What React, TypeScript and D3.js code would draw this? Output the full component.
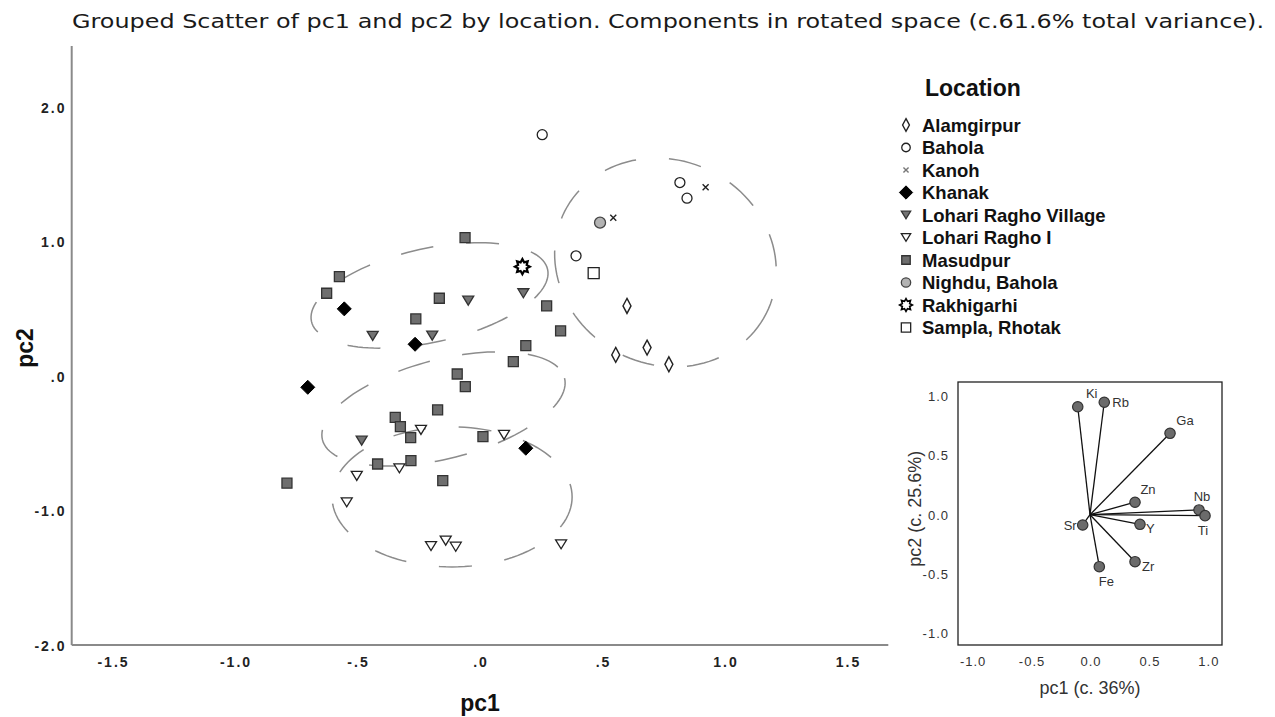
import { useEffect, useRef } from 'react'
import * as d3 from 'd3'

type Pt = [number, number]

const W = 1275
const H = 717

const TITLE =
  'Grouped Scatter of pc1 and pc2 by location. Components in rotated space (c.61.6% total variance).'

const LOCATIONS = [
  'Alamgirpur',
  'Bahola',
  'Kanoh',
  'Khanak',
  'Lohari Ragho Village',
  'Lohari Ragho I',
  'Masudpur',
  'Nighdu, Bahola',
  'Rakhigarhi',
  'Sampla, Rhotak',
]

// [pc1, pc2] scores per site
const ALAMGIRPUR: Pt[] = [[0.6, 0.528], [0.682, 0.218], [0.554, 0.164], [0.771, 0.094]]
const BAHOLA: Pt[] = [[0.254, 1.801], [0.816, 1.445], [0.845, 1.329], [0.392, 0.9]]
const KANOH: Pt[] = [[0.921, 1.41], [0.544, 1.184]]
const KHANAK: Pt[] = [[-0.554, 0.506], [-0.265, 0.243], [-0.703, -0.077], [0.187, -0.53]]
const LOHARI_VILLAGE: Pt[] = [
  [0.177, 0.622], [-0.048, 0.567], [-0.438, 0.305], [-0.195, 0.307], [-0.483, -0.474],
]
const LOHARI_I: Pt[] = [
  [-0.241, -0.394], [0.098, -0.431], [-0.329, -0.679], [-0.503, -0.736], [-0.544, -0.932],
  [-0.2, -1.257], [-0.14, -1.217], [-0.099, -1.262], [0.331, -1.244],
]
const MASUDPUR: Pt[] = [
  [-0.061, 1.036], [-0.574, 0.746], [-0.626, 0.622], [-0.166, 0.585], [0.272, 0.528],
  [-0.262, 0.431], [0.329, 0.342], [0.187, 0.233], [0.136, 0.114], [-0.093, 0.022],
  [-0.06, -0.072], [-0.173, -0.245], [-0.346, -0.3], [-0.325, -0.37], [-0.283, -0.451],
  [0.012, -0.444], [-0.418, -0.647], [-0.282, -0.622], [-0.788, -0.79], [-0.152, -0.771],
]
const NIGHDU: Pt[] = [[0.49, 1.147]]
const RAKHIGARHI: Pt[] = [[0.173, 0.82]]
const SAMPLA: Pt[] = [[0.464, 0.771]]

const SERIES = [
  ALAMGIRPUR, BAHOLA, KANOH, KHANAK, LOHARI_VILLAGE, LOHARI_I, MASUDPUR, NIGHDU, RAKHIGARHI, SAMPLA,
]

// group ellipses: centre plus two conjugate semi-axes, all in pc units
const ELLIPSE_CENTRES: Pt[] = [[0.757, 0.851], [-0.206, 0.606], [-0.149, -0.238], [-0.114, -0.892]]
const ELLIPSE_AXIS_U: Pt[] = [[0.411, -0.381], [0.482, 0.193], [0.494, 0.23], [0.49, 0]]
const ELLIPSE_AXIS_V: Pt[] = [[-0.189, -0.676], [0.041, -0.341], [0.05, -0.357], [0, -0.52]]

const X_TICKS = [-1.5, -1, -0.5, 0, 0.5, 1, 1.5]
const Y_TICKS = [-2, -1, 0, 1, 2]

// inset loading plot
const LOADING_VARS = ['Ki', 'Rb', 'Ga', 'Zn', 'Nb', 'Ti', 'Y', 'Zr', 'Fe', 'Sr']
const LOADING_PC1 = [-0.104, 0.121, 0.679, 0.382, 0.925, 0.976, 0.424, 0.382, 0.079, -0.062]
const LOADING_PC2 = [0.911, 0.949, 0.687, 0.105, 0.04, -0.008, -0.081, -0.397, -0.439, -0.087]
const INSET_TICKS = [-1, -0.5, 0, 0.5, 1]

// label placement around each loading point: dx, dy, anchor
const LOADING_LABEL_POS: Record<string, [number, number, string]> = {
  Ki: [14, -13, 'middle'],
  Rb: [8, 0, 'start'],
  Ga: [15, -13, 'middle'],
  Zn: [13, -13, 'middle'],
  Nb: [3, -13, 'middle'],
  Ti: [-2, 15, 'middle'],
  Y: [6, 4, 'start'],
  Zr: [7, 5, 'start'],
  Fe: [7, 15, 'middle'],
  Sr: [-6, 1, 'end'],
}

const FONT = 'Liberation Sans, Arial, Helvetica, sans-serif'

type Mark = { shape: string; fill: string; stroke: string; sw: number; w: number; h: number }

const MARKS: Record<string, Mark> = {
  Alamgirpur: { shape: 'diamond', fill: '#fff', stroke: '#222', sw: 1.4, w: 8, h: 15 },
  Bahola: { shape: 'circle', fill: '#fff', stroke: '#222', sw: 1.3, w: 10, h: 10 },
  Kanoh: { shape: 'cross', fill: 'none', stroke: '#222', sw: 1.4, w: 6, h: 6 },
  Khanak: { shape: 'diamond', fill: '#000', stroke: '#000', sw: 1, w: 14, h: 14 },
  'Lohari Ragho Village': { shape: 'tri', fill: '#737373', stroke: '#333', sw: 1.3, w: 11, h: 9 },
  'Lohari Ragho I': { shape: 'tri', fill: '#fff', stroke: '#222', sw: 1.3, w: 11, h: 9 },
  Masudpur: { shape: 'square', fill: '#6e6e6e', stroke: '#333', sw: 1.3, w: 10, h: 10 },
  'Nighdu, Bahola': { shape: 'circle', fill: '#b3b3b3', stroke: '#444', sw: 1.3, w: 11, h: 11 },
  Rakhigarhi: { shape: 'star', fill: '#fff', stroke: '#000', sw: 2.2, w: 15, h: 15 },
  'Sampla, Rhotak': { shape: 'square', fill: '#fff', stroke: '#222', sw: 1.3, w: 11, h: 11 },
}

function markPath(m: Mark, k: number): string {
  const w = (m.w * k) / 2
  const h = (m.h * k) / 2
  switch (m.shape) {
    case 'diamond':
      return `M0,${-h}L${w},0L0,${h}L${-w},0Z`
    case 'tri':
      return `M${-w},${-h}L${w},${-h}L0,${h}Z`
    case 'square':
      return `M${-w},${-h}H${w}V${h}H${-w}Z`
    case 'cross':
      return `M${-w},${-h}L${w},${h}M${-w},${h}L${w},${-h}`
    case 'circle':
      return `M${w},0A${w},${w} 0 1,1 ${-w},0A${w},${w} 0 1,1 ${w},0Z`
    case 'star': {
      const pts = d3.range(16).map((i) => {
        const r = i % 2 ? w * 0.62 : w
        const a = (i * Math.PI) / 8 - Math.PI / 2
        return `${r * Math.cos(a)},${r * Math.sin(a)}`
      })
      return `M${pts.join('L')}Z`
    }
  }
  return ''
}

// plain hyphen minus, as in the source chart
const fmt1 = (v: number) => d3.format('.1f')(v).replace('\u2212', '-')
// SPSS style: ".5", "-.5", ".0"
const spss = (v: number) => fmt1(v).replace(/^(-?)0\./, '$1.')

export default function App() {
  const svgRef = useRef<SVGSVGElement>(null)

  useEffect(() => {
    if (!svgRef.current) return
    const svg = d3.select(svgRef.current)
    svg.selectAll('*').remove()

    svg
      .append('text')
      .attr('x', 668)
      .attr('y', 28)
      .attr('text-anchor', 'middle')
      .attr('font-family', 'DejaVu Sans, sans-serif')
      .attr('font-size', 20)
      .attr('fill', '#1a1a1a')
      .attr('textLength', 1192)
      .attr('lengthAdjust', 'spacingAndGlyphs')
      .text(TITLE)

    // ---- main scatter ----
    const x = d3.scaleLinear().domain([-5 / 3, 5 / 3]).range([71.7, 888.3])
    const y = d3.scaleLinear().domain([-2, 2.46]).range([646, 46])

    const g = svg.append('g')

    g.append('line')
      .attr('x1', x.range()[0]).attr('x2', x.range()[0])
      .attr('y1', y.range()[1]).attr('y2', y.range()[0] - 1)
      .attr('stroke', '#8a8a8a').attr('stroke-width', 2)
    g.append('line')
      .attr('x1', x.range()[0]).attr('x2', x.range()[1])
      .attr('y1', y.range()[0] - 1).attr('y2', y.range()[0] - 1)
      .attr('stroke', '#8a8a8a').attr('stroke-width', 2)

    g.selectAll('.xt')
      .data(X_TICKS)
      .join('text')
      .attr('x', (d) => x(d) + 1)
      .attr('y', 667)
      .attr('text-anchor', 'middle')
      .attr('font-family', FONT)
      .attr('font-weight', 'bold')
      .attr('font-size', 14)
      .attr('letter-spacing', 2)
      .attr('fill', '#222')
      .text(spss)

    g.selectAll('.yt')
      .data(Y_TICKS)
      .join('text')
      .attr('x', 66.5)
      .attr('y', (d) => y(d) + 5)
      .attr('text-anchor', 'end')
      .attr('font-family', FONT)
      .attr('font-weight', 'bold')
      .attr('font-size', 14)
      .attr('letter-spacing', 2)
      .attr('fill', '#222')
      .text(spss)

    g.append('text')
      .attr('x', (x.range()[0] + x.range()[1]) / 2)
      .attr('y', 711)
      .attr('text-anchor', 'middle')
      .attr('font-family', FONT)
      .attr('font-weight', 'bold')
      .attr('font-size', 23)
      .attr('fill', '#111')
      .text('pc1')

    g.append('text')
      .attr('transform', `translate(33,348) rotate(-90)`)
      .attr('text-anchor', 'middle')
      .attr('font-family', FONT)
      .attr('font-weight', 'bold')
      .attr('font-size', 23)
      .attr('fill', '#111')
      .text('pc2')

    // ellipses
    const ring = d3.range(120).map((i) => (i / 120) * Math.PI * 2)
    const ellLine = d3.line<Pt>().x((d) => x(d[0])).y((d) => y(d[1])).curve(d3.curveLinearClosed)
    ELLIPSE_CENTRES.forEach((c, i) => {
      const u = ELLIPSE_AXIS_U[i]
      const v = ELLIPSE_AXIS_V[i]
      const pts: Pt[] = ring.map((t) => [
        c[0] + u[0] * Math.cos(t) + v[0] * Math.sin(t),
        c[1] + u[1] * Math.cos(t) + v[1] * Math.sin(t),
      ])
      g.append('path')
        .attr('d', ellLine(pts) as string)
        .attr('fill', 'none')
        .attr('stroke', '#8c8c8c')
        .attr('stroke-width', 1.5)
        .attr('stroke-dasharray', '33 33')
    })

    // points
    LOCATIONS.forEach((loc, i) => {
      const m = MARKS[loc]
      g.selectAll(null)
        .data(SERIES[i])
        .join('path')
        .attr('transform', (d) => `translate(${x(d[0])},${y(d[1])})`)
        .attr('d', markPath(m, 1))
        .attr('fill', m.fill)
        .attr('stroke', m.stroke)
        .attr('stroke-width', m.sw)
        .attr('stroke-linejoin', 'miter')
    })

    // ---- legend ----
    const lg = svg.append('g')
    lg.append('text')
      .attr('x', 925)
      .attr('y', 96)
      .attr('font-family', FONT)
      .attr('font-weight', 'bold')
      .attr('font-size', 23)
      .attr('fill', '#111')
      .text('Location')
    LOCATIONS.forEach((loc, i) => {
      const m = MARKS[loc]
      const cy = 125 + i * 22.5
      lg.append('path')
        .attr('transform', `translate(906,${cy})`)
        .attr('d', markPath(m, loc === 'Khanak' ? 0.95 : 0.85))
        .attr('fill', m.fill)
        .attr('stroke', loc === 'Kanoh' ? '#777' : m.stroke)
        .attr('stroke-width', Math.min(m.sw, 1.6))
      lg.append('text')
        .attr('x', 922)
        .attr('y', cy + 6.5)
        .attr('font-family', FONT)
        .attr('font-weight', 'bold')
        .attr('font-size', 18.5)
        .attr('fill', '#111')
        .text(loc)
    })

    // ---- inset loading plot ----
    const ix = d3.scaleLinear().domain([-1.12, 1.12]).range([958, 1222])
    const iy = d3.scaleLinear().domain([-1.1, 1.12]).range([645, 382])
    const ig = svg.append('g')

    ig.append('rect')
      .attr('x', ix.range()[0])
      .attr('y', iy.range()[1])
      .attr('width', ix.range()[1] - ix.range()[0])
      .attr('height', iy.range()[0] - iy.range()[1])
      .attr('fill', 'none')
      .attr('stroke', '#222')
      .attr('stroke-width', 1.3)

    ig.selectAll('.ixt')
      .data(INSET_TICKS)
      .join('text')
      .attr('x', (d) => ix(d) + 1)
      .attr('y', 666)
      .attr('text-anchor', 'middle')
      .attr('font-family', FONT)
      .attr('font-size', 13)
      .attr('letter-spacing', 1)
      .attr('fill', '#333')
      .text(fmt1)

    ig.selectAll('.iyt')
      .data(INSET_TICKS)
      .join('text')
      .attr('x', 949)
      .attr('y', (d) => iy(d) + 5)
      .attr('text-anchor', 'end')
      .attr('font-family', FONT)
      .attr('font-size', 13)
      .attr('letter-spacing', 1)
      .attr('fill', '#333')
      .text(fmt1)

    ig.append('text')
      .attr('x', ix(0))
      .attr('y', 694)
      .attr('text-anchor', 'middle')
      .attr('font-family', FONT)
      .attr('font-size', 18)
      .attr('fill', '#333')
      .text('pc1 (c. 36%)')

    ig.append('text')
      .attr('transform', `translate(921,${iy(0) - 6}) rotate(-90)`)
      .attr('text-anchor', 'middle')
      .attr('font-family', FONT)
      .attr('font-size', 18)
      .attr('fill', '#333')
      .text('pc2 (c. 25.6%)')

    LOADING_VARS.forEach((name, i) => {
      const px = ix(LOADING_PC1[i])
      const py = iy(LOADING_PC2[i])
      ig.append('line')
        .attr('x1', ix(0)).attr('y1', iy(0))
        .attr('x2', px).attr('y2', py)
        .attr('stroke', '#111').attr('stroke-width', 1.3)
    })
    LOADING_VARS.forEach((name, i) => {
      const px = ix(LOADING_PC1[i])
      const py = iy(LOADING_PC2[i])
      ig.append('circle')
        .attr('cx', px).attr('cy', py).attr('r', 5.2)
        .attr('fill', '#6b6b6b').attr('stroke', '#333').attr('stroke-width', 1.2)
      const [dx, dy, anchor] = LOADING_LABEL_POS[name]
      ig.append('text')
        .attr('x', px + dx)
        .attr('y', py + dy + 4.5)
        .attr('text-anchor', anchor)
        .attr('font-family', FONT)
        .attr('font-size', 13)
        .attr('fill', '#333')
        .text(name)
    })
  }, [])

  return (
    <svg
      ref={svgRef}
      width={W}
      height={H}
      style={{ position: 'absolute', left: 0, top: 0, background: '#fff' }}
    />
  )
}
